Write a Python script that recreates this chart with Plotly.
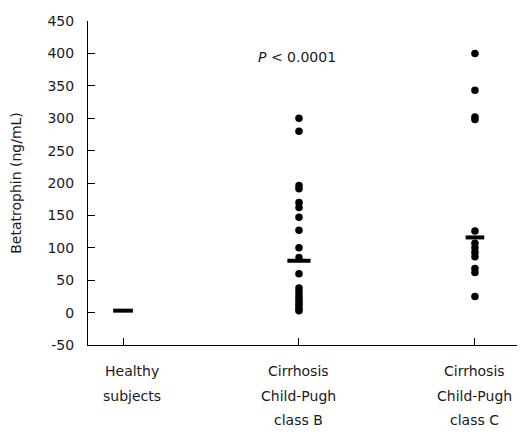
import plotly.graph_objects as go

categories = ["Healthy<br>subjects", "Cirrhosis<br>Child-Pugh<br>class B", "Cirrhosis<br>Child-Pugh<br>class C"]
class_b_values = [300, 280, 196, 191, 170, 162, 147, 127, 100, 85, 60, 38, 32, 27, 22, 18, 14, 10, 6, 3]
class_c_values = [400, 343, 302, 298, 126, 107, 100, 93, 86, 68, 62, 25]
medians = [3, 80, 116]
y_ticks = [-50, 0, 50, 100, 150, 200, 250, 300, 350, 400, 450]
y_tick_labels = ["-50", "0", "50", "100", "150", "200", "250", "300", "350", "400", "450"]
p_text = "<i>P</i> < 0.0001"
p_pos = (1, 394)

FONT = "DejaVu Sans"
FS = 14
TXT = "#1a1a1a"

fig = go.Figure()
fig.add_trace(go.Scatter(
    x=[1] * len(class_b_values), y=class_b_values, mode="markers",
    marker=dict(color="black", size=7.5), showlegend=False))
fig.add_trace(go.Scatter(
    x=[2] * len(class_c_values), y=class_c_values, mode="markers",
    marker=dict(color="black", size=7.5), showlegend=False))

half_w = [0.056, 0.066, 0.053]
for i, m in enumerate(medians):
    fig.add_trace(go.Scatter(
        x=[i - half_w[i], i + half_w[i]], y=[m, m], mode="lines",
        line=dict(color="black", width=4), showlegend=False))

fig.add_annotation(x=p_pos[0], y=p_pos[1], xref="x", yref="y", text=p_text,
                   showarrow=False, xshift=-2,
                   font=dict(family=FONT, size=FS, color=TXT))

for i, cat in enumerate(categories):
    lines = cat.split("<br>")
    for j, ln in enumerate(lines):
        fig.add_annotation(x=i, y=0, xref="x", yref="paper", text=ln,
                           showarrow=False, yanchor="middle",
                           xshift=9 if i == 0 else 0,
                           yshift=-26 - 24.5 * j,
                           font=dict(family=FONT, size=FS, color=TXT))

fig.update_layout(
    width=522, height=436,
    margin=dict(l=80, r=13, t=13, b=99),
    paper_bgcolor="white", plot_bgcolor="white",
    font=dict(family=FONT, size=FS, color=TXT),
    xaxis=dict(range=[-0.199, 2.239], tickvals=[0, 1, 2], showticklabels=False,
               ticks="inside", ticklen=7, tickcolor="black", tickwidth=1,
               showline=True, linecolor="black", linewidth=1,
               showgrid=False, zeroline=False),
    yaxis=dict(range=[-50, 450], tickvals=y_ticks, ticktext=y_tick_labels,
               ticks="inside", ticklen=7,
               tickcolor="black", tickwidth=1, showline=True, linecolor="black",
               linewidth=1, showgrid=False, zeroline=False,
               ticklabelstandoff=10,
               title=dict(text="Betatrophin (ng/mL)", standoff=22,
                          font=dict(family=FONT, size=FS, color=TXT)),
               automargin=False),
)

fig.write_html("out.html")
